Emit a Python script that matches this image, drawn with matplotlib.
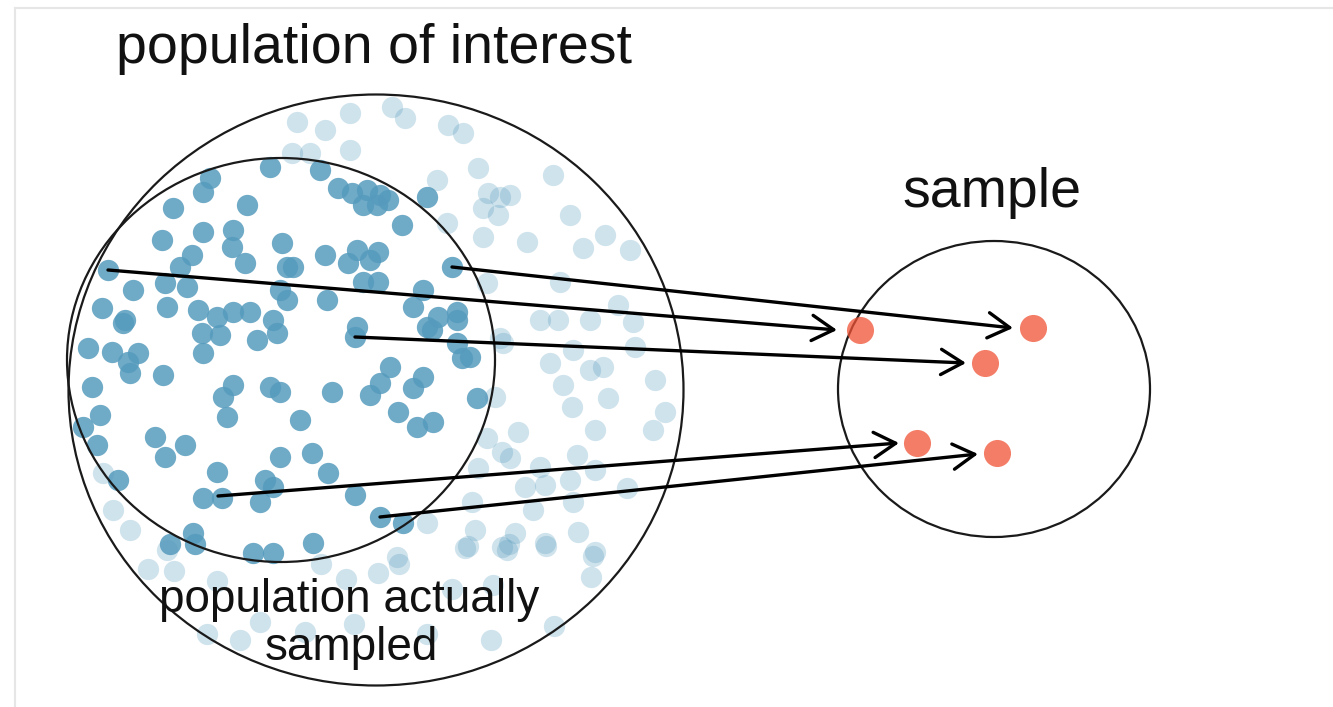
import matplotlib.pyplot as plt
from matplotlib.patches import Ellipse

# points actually sampled (dark) - pixel coords
dark_x = [270, 210, 203, 173, 247, 203, 233, 232, 162, 192, 180, 245, 282, 108, 133, 165, 187, 102, 125, 167,
          198, 217, 233, 250, 273, 280, 287,
          320, 338, 352, 367, 380, 388, 363, 377, 427, 402, 293, 325, 357, 348, 378, 370, 452, 363, 378, 287, 327,
          423, 413, 438, 457, 457, 427, 357,
          123, 88, 112, 138, 128, 130, 163, 92, 233, 223, 270, 280, 100, 227, 83, 97, 155, 185, 165, 118, 217, 265,
          280, 203, 222, 260, 273, 193, 253, 273, 202, 220, 257, 277, 203,
          355, 432, 457, 470, 462, 477, 390, 380, 370, 332, 423, 413, 300, 398, 417, 433, 312, 328, 355, 380, 403,
          313, 170, 195]
dark_y = [167, 178, 192, 208, 205, 232, 230, 247, 240, 255, 267, 263, 243, 270, 290, 283, 287, 308, 320, 307,
          310, 317, 312, 312, 320, 290, 267,
          170, 188, 193, 190, 195, 200, 205, 205, 197, 225, 267, 255, 250, 263, 252, 260, 267, 282, 282, 300, 300,
          290, 307, 317, 312, 320, 327, 327,
          323, 348, 352, 353, 362, 373, 375, 387, 385, 397, 387, 392, 415, 417, 427, 445, 437, 445, 457, 480, 472, 480,
          457, 498, 498, 502, 487, 533, 553, 553, 333, 335, 340, 333, 353,
          337, 330, 343, 357, 358, 398, 367, 383, 395, 392, 377, 388, 420, 412, 427, 422, 453, 473, 495, 517, 523,
          543, 544, 544]

# rest of the population of interest (light)
light_x = [297, 350, 325, 392, 405, 448, 463, 292, 310, 350, 478, 437, 488, 500, 483, 498, 447, 483, 487,
           553, 510, 570, 527, 605, 583, 630, 560, 618, 540, 558, 590, 633,
           113, 130, 167, 103,
           500, 495, 487, 502, 478, 427, 472, 475, 465, 502, 397,
           503, 573, 635, 550, 590, 603, 655, 563, 608, 572, 665, 518, 595, 653, 510, 577, 540, 595, 525, 545, 570,
           627, 533, 573, 515, 545, 578, 595, 507,
           148, 174, 217, 321, 346, 378, 399, 468, 509, 546, 593, 591, 554, 491, 427, 354, 305, 240, 207, 452, 493,
           260]
light_y = [122, 113, 130, 107, 118, 125, 133, 153, 153, 150, 168, 180, 193, 197, 208, 215, 223, 237, 283,
           175, 195, 215, 242, 235, 248, 250, 282, 305, 320, 320, 320, 322,
           510, 530, 550, 473,
           338, 397, 438, 452, 468, 523, 502, 530, 548, 547, 557,
           343, 350, 347, 363, 370, 367, 380, 385, 398, 407, 412, 432, 430, 430, 458, 455, 467, 470, 487, 485, 480,
           488, 510, 502, 533, 543, 532, 552, 550,
           569, 571, 581, 564, 579, 573, 564, 546, 544, 546, 556, 577, 626, 640, 634, 624, 632, 640, 634, 589, 585,
           622]

# the sample
sample_x = [860, 1033, 985, 917, 997]
sample_y = [330, 328, 363, 443, 453]

# arrows: from population member to sample member
arrow_x0 = [108, 452, 355, 218, 380]
arrow_y0 = [270, 267, 337, 496, 517]
arrow_x1 = [837, 1013, 966, 899, 978]
arrow_y1 = [330, 328, 363, 443, 454]

blue = '#569BBD'
red = '#F05133'

fig = plt.figure(figsize=(13.33, 7.07), dpi=100)
ax = fig.add_axes([0, 0, 1, 1])
ax.set_xlim(0, 1333)
ax.set_ylim(707, 0)
ax.axis('off')

# faint frame on top and left
ax.plot([15, 1333], [8, 8], color='#e6e6e6', lw=1.5)
ax.plot([15, 15], [8, 707], color='#e6e6e6', lw=1.5)

ax.scatter(light_x, light_y, s=235, color=blue, alpha=0.28, linewidths=0, zorder=2)
ax.scatter(dark_x, dark_y, s=235, color=blue, alpha=0.85, linewidths=0, zorder=3)

ax.add_patch(Ellipse((376, 390), 615, 591, fill=False, ec='#1a1a1a', lw=1.6, zorder=4))
ax.add_patch(Ellipse((281, 360), 428, 404, fill=False, ec='#1a1a1a', lw=1.6, zorder=4))
ax.add_patch(Ellipse((994, 389), 312, 296, fill=False, ec='#1a1a1a', lw=1.6, zorder=4))

for x0, y0, x1, y1 in zip(arrow_x0, arrow_y0, arrow_x1, arrow_y1):
    ax.annotate('', xy=(x1, y1), xytext=(x0, y0),
                arrowprops=dict(arrowstyle='->,head_length=0.6,head_width=0.35', lw=2.4, color='black',
                                shrinkA=0, shrinkB=0, mutation_scale=26),
                zorder=5)

ax.scatter(sample_x, sample_y, s=380, color=red, alpha=0.75, linewidths=0, zorder=6)

font = 'Liberation Sans'
ax.text(374, 63, 'population of interest', fontsize=40, family=font, ha='center', va='baseline', color='#111111')
ax.text(992, 207, 'sample', fontsize=40, family=font, ha='center', va='baseline', color='#111111')
ax.text(349, 612, 'population actually', fontsize=33, family=font, ha='center', va='baseline', color='#111111',
        zorder=7)
ax.text(351, 660, 'sampled', fontsize=33, family=font, ha='center', va='baseline', color='#111111', zorder=7)

fig.savefig('out.png', dpi=100)
